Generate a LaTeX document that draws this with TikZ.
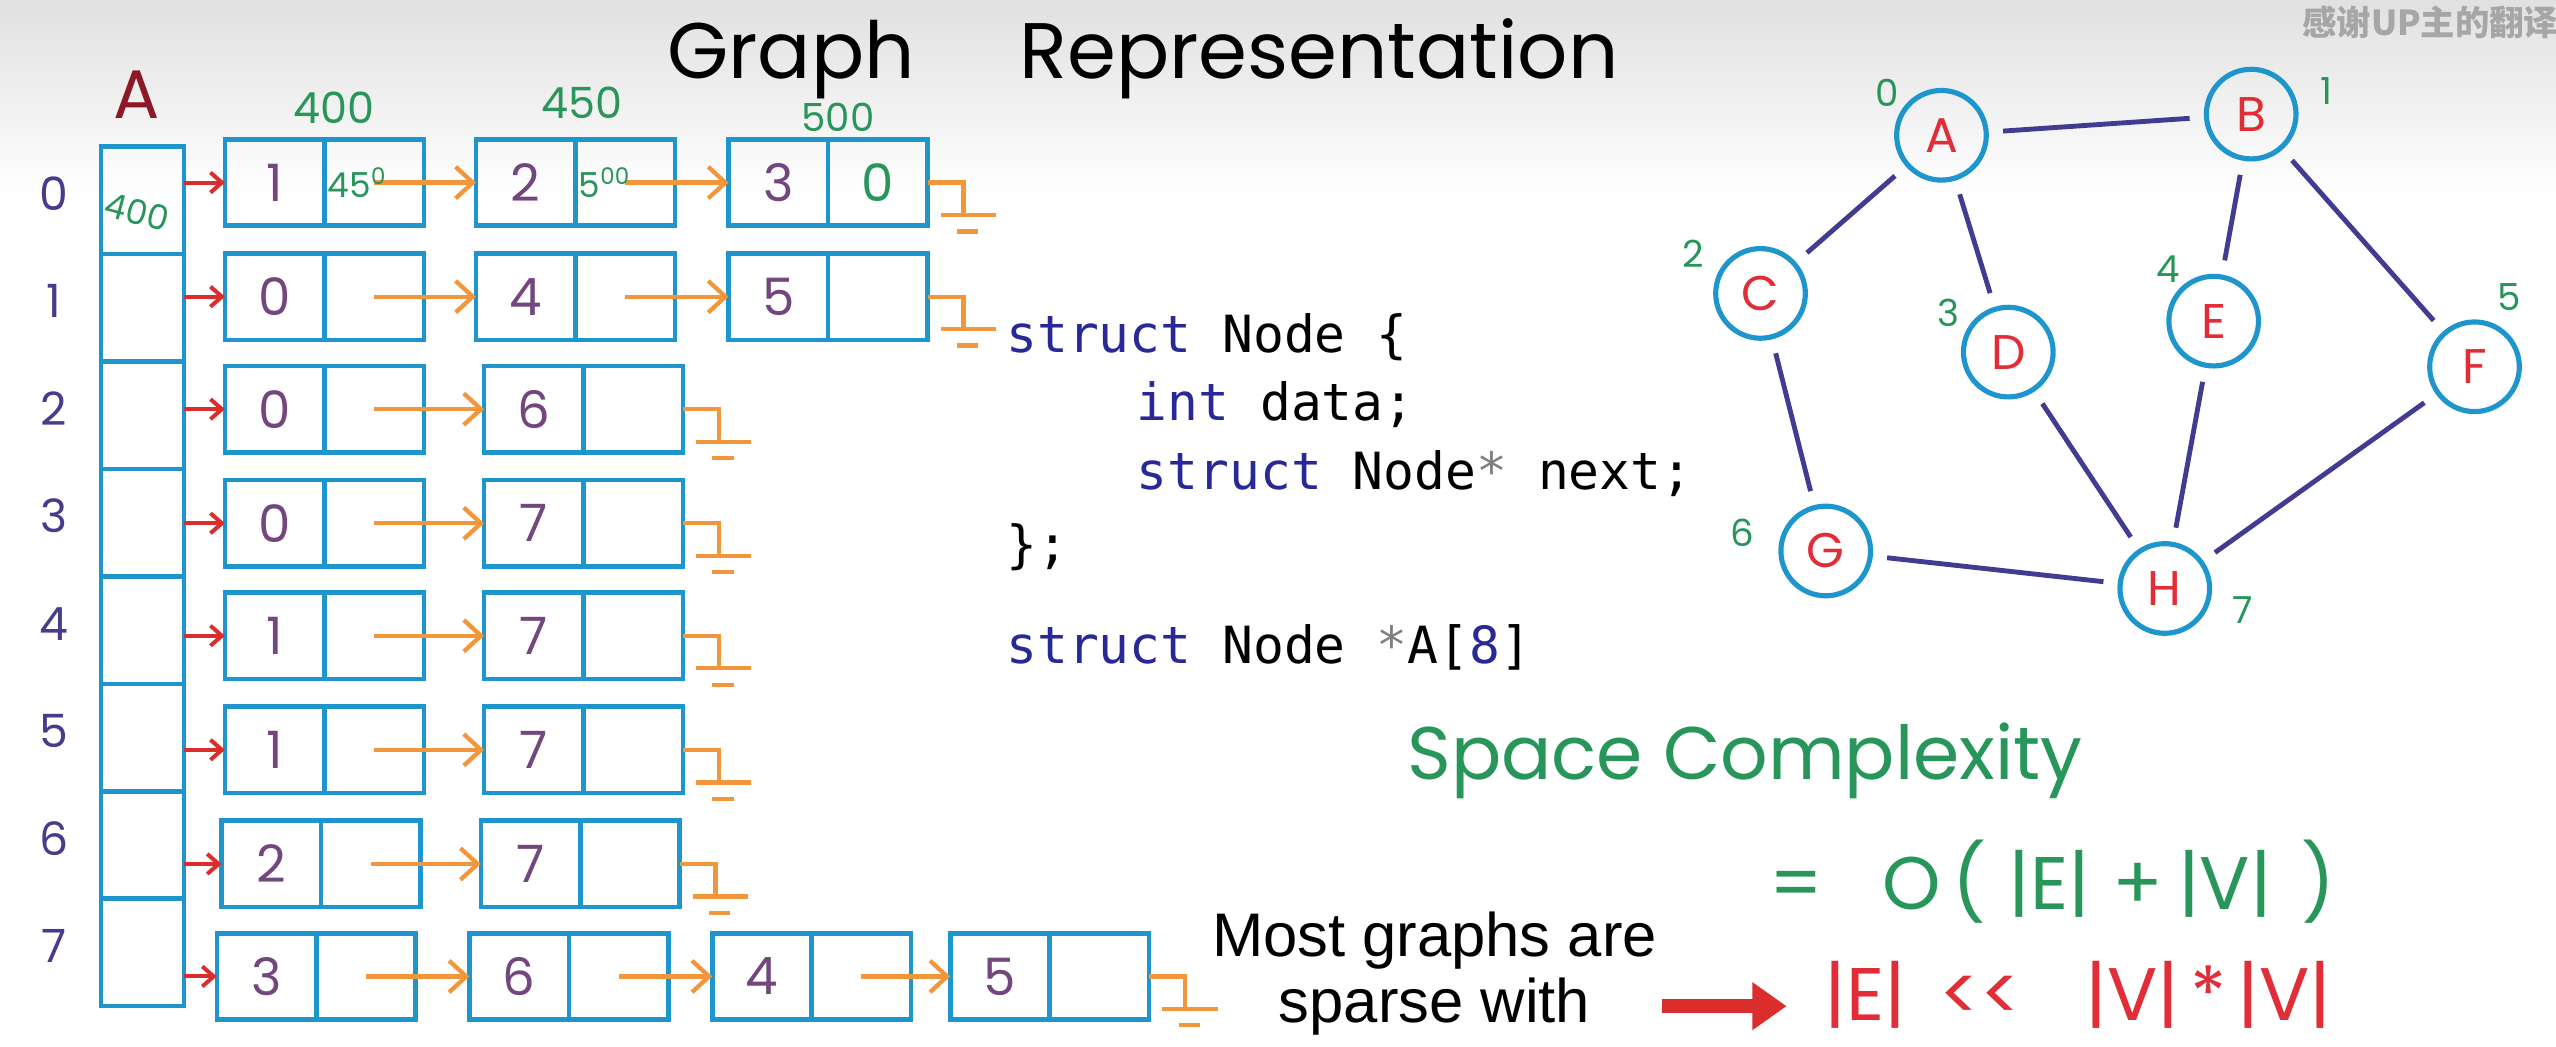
\documentclass[tikz,border=0pt]{standalone}
\usepackage{fontspec}
\usepackage{tikz}
\usetikzlibrary{arrows.meta,positioning}
\usepackage{xcolor}

\newfontfamily\handfont{Poppins}
\newfontfamily\codefont{DejaVu Sans Mono}
\newfontfamily\slidefont{Liberation Sans}
\newfontfamily\cjkfont{Noto Sans CJK SC}

\definecolor{boxblue}{RGB}{30,150,205}
\definecolor{nextorange}{RGB}{242,150,60}
\definecolor{ptrred}{RGB}{220,45,45}
\definecolor{datapurple}{RGB}{115,70,125}
\definecolor{rowblue}{RGB}{70,60,140}
\definecolor{addrgreen}{RGB}{40,150,90}
\definecolor{kwblue}{RGB}{40,40,150}
\definecolor{edgeblue}{RGB}{65,60,145}
\definecolor{vertred}{RGB}{225,45,55}
\definecolor{headred}{RGB}{140,25,40}

\newcommand{\kw}[1]{\textcolor{kwblue}{#1}}
\newcommand{\ptrstar}{\textcolor{gray}{*}}

\begin{document}
\begin{tikzpicture}[x=0.02cm, y=-0.02cm,
  hand/.style={font=\handfont\fontsize{#1}{#1}\selectfont},
  arrcell/.style={draw=boxblue, line width=1.6pt, minimum width=1.02cm, minimum height=1.318cm, inner sep=0pt, outer sep=0pt},
  cell/.style={draw=boxblue, line width=1.6pt, minimum width=1.22cm, minimum height=1.06cm, inner sep=0pt, outer sep=0pt, hand=18, text=datapurple},
  rowlbl/.style={hand=16, text=rowblue},
  addr/.style={hand=15, text=addrgreen, inner sep=0pt},
  ptrarrow/.style={ptrred, line width=1.4pt, -{Straight Barb[length=4pt,width=7pt]}},
  nextarrow/.style={nextorange, line width=1.5pt, -{Straight Barb[length=6pt,width=11pt]}},
  nullline/.style={nextorange, line width=1.5pt},
  codeline/.style={font=\codefont\fontsize{17.9}{17.9}\selectfont, anchor=base west, inner sep=0pt},
  vert/.style={circle, draw=boxblue, line width=1.8pt, minimum size=1.1cm, inner sep=0pt, hand=17, text=vertred},
  idx/.style={hand=13, text=addrgreen},
  graphedge/.style={edgeblue, line width=1.7pt, shorten <=5pt, shorten >=5pt},
  fatarrow/.style={ptrred, line width=5pt, -{Triangle[length=12pt,width=16pt]}}]

% slide background
\useasboundingbox (0,0) rectangle (1568,642);
\shade[top color=black!12, bottom color=white] (0,0) rectangle (1568,120);

% title
\node[hand=27.5, anchor=base west, inner sep=0pt] (gr) at (409,48) {Graph};
\node[hand=27.5, anchor=base west, inner sep=0pt] (rep) at (625,48) {Representation};

% array A[0..7] with row numbers
\node[hand=24, text=headred] (lblA) at (84,58) {A};
\foreach \i in {0,...,7}{
  \node[arrcell] (a\i) at (87.5,{90+65.9*(\i+0.5)}) {};
  \node[rowlbl] (r\i) at (33,{86+65.9*(\i+0.5)}) {\i};
}

% linked lists, one row per vertex
\foreach \r/\y/\lst in {0/112/{138/1,292/2,447/3}, 1/182/{138/0,292/4,447/5},
    2/251/{138/0,297/6}, 3/321/{138/0,297/7}, 4/390/{138/1,297/7},
    5/460/{138/1,297/7}, 6/530/{136/2,295/7}, 7/599/{133/3,288/6,437/4,583/5}}{
  \foreach \x/\v [count=\c] in \lst {
    \node[cell, anchor=west] (d\r-\c) at (\x,\y) {\v};
    \node[cell, right=0pt of d\r-\c] (p\r-\c) {};
  }
}

% head pointers out of A
\foreach \r in {0,...,7}
  \draw[ptrarrow] (a\r.east |- d\r-1.west) -- (d\r-1.west);

% next pointers
\foreach \r/\c/\n in {0/1/2,0/2/3,1/1/2,1/2/3,2/1/2,3/1/2,4/1/2,5/1/2,6/1/2,7/1/2,7/2/3,7/3/4}
  \draw[nextarrow] (p\r-\c.center) -- (d\r-\n.west);

% NULL at the end of each list
\foreach \n in {p0-3,p1-3,p2-2,p3-2,p4-2,p5-2,p6-2,p7-4}
  \draw[nullline] (\n.east) -- ++(22,0) -- ++(0,20) ++(-14,0) -- ++(34,0) ++(-24,10) -- ++(13,0);

% addresses written on row 0
\node[addr] (m1) at (205,66) {400};
\node[addr] (m2) at (357,63) {450};
\node[addr, hand=13.5] (m3) at (514,72) {500};
\node[addr, hand=12, rotate=-15] (m0) at (84,130) {400};
\node[addr, hand=12, anchor=west, inner sep=1pt] (q1) at (p0-1.west) {45\textsuperscript{0}};
\node[addr, hand=12, anchor=west, inner sep=1pt] (q2) at (p0-2.west) {5\textsuperscript{00}};
\node[addr, hand=18] (q3) at (p0-3.center) {0};

% node struct
\node[codeline] (c1) at (617,216) {\kw{struct} Node \{};
\node[codeline] (c2) at (697,258) {\kw{int} data;};
\node[codeline] (c3) at (697,300) {\kw{struct} Node\ptrstar{} next;};
\node[codeline] (c4) at (617,345) {\};};
\node[codeline] (c5) at (617,407) {\kw{struct} Node \ptrstar A[\kw{8}]};

% the graph
\foreach \n/\x/\y in {A/1191/83,B/1381/70,C/1080/180,D/1232/216,E/1358/197,F/1518/225,G/1120/338,H/1328/361}
  \node[vert] (v\n) at (\x,\y) {\n};
\foreach \u/\w in {A/B,A/C,A/D,B/E,B/F,C/G,D/H,E/H,F/H,G/H}
  \draw[graphedge] (v\u) -- (v\w);
\foreach \k/\x/\y in {0/1158/57,1/1427/56,2/1039/156,3/1195/192,4/1330/165,5/1539/182,6/1069/327,7/1376/374}
  \node[idx] (i\k) at (\x,\y) {\k};

% space complexity
\node[hand=26, text=addrgreen, anchor=base west, inner sep=0pt] (sc) at (863,478) {Space Complexity};
\node[hand=26, text=addrgreen, anchor=base west, inner sep=0pt] (oc) at (1085,558)
  {=\hspace{0.8em}O\hspace{0.15em}(\hspace{0.3em}|E|\hspace{0.3em}+\hspace{0.2em}|V|\hspace{0.4em})};

% sparse graphs note
\node[font=\slidefont\fontsize{21.5}{21.5}\selectfont, anchor=base] (most1) at (880,587) {Most graphs are};
\node[font=\slidefont\fontsize{21.5}{21.5}\selectfont, anchor=base] (most2) at (880,627) {sparse with};
\node[hand=26, text=vertred, anchor=base west, inner sep=0pt] (ineq) at (1119,626)
  {|E|\hspace{0.45em}<<\hspace{0.85em}|V|\hspace{0.15em}*\hspace{0.15em}|V|};
\draw[fatarrow, shorten <=0.76cm, shorten >=0.46cm] (most2.east) -- (most2.east -| ineq.west);

% caption in the corner
\node[font=\cjkfont\bfseries\fontsize{12}{12}\selectfont, text=gray!70, anchor=west, inner sep=0pt] (wm) at (1412,14) {感谢UP主的翻译};

\end{tikzpicture}
\end{document}
